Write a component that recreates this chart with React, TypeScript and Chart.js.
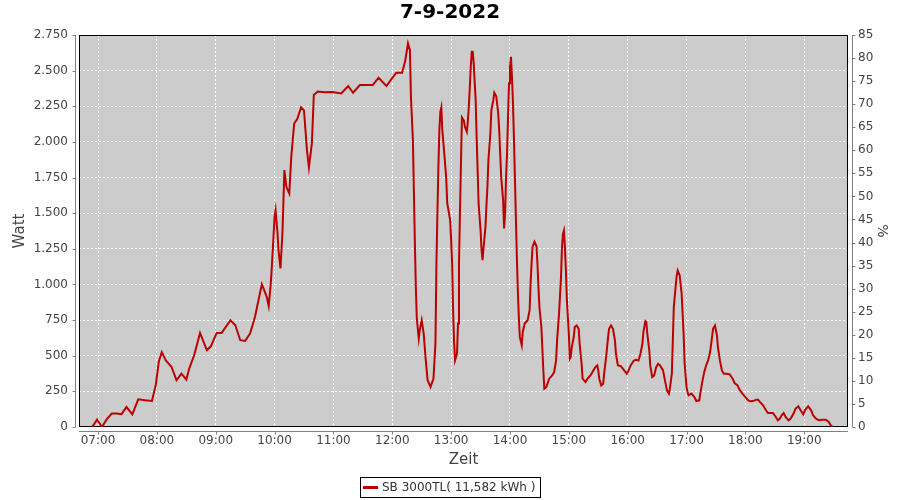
import React, { useEffect, useRef } from "react";
import { Chart, registerables } from "chart.js";

Chart.register(...registerables);

const chartTitle = "7-9-2022";
const seriesLabel = "SB 3000TL( 11,582 kWh )";
const xAxisTitle = "Zeit";
const yAxisTitle = "Watt";
const y2AxisTitle = "%";

const xTickLabels = ["07:00", "08:00", "09:00", "10:00", "11:00", "12:00", "13:00", "14:00", "15:00", "16:00", "17:00", "18:00", "19:00"];

// minutes since midnight
const timeMinutes = [
  414, 419, 424, 429, 434, 439, 444, 449, 455, 461, 468, 475, 479, 482, 485, 489, 495, 500, 505, 510,
  513, 518, 524, 531, 535, 541, 546, 555, 560, 565, 570, 575, 580, 587, 592, 594, 596, 597, 600, 601,
  603, 604, 606, 608, 610, 612, 615, 617, 620, 623, 627, 630, 633, 635, 638, 640, 644, 651, 659, 668,
  675, 680, 687, 700, 706, 714, 719, 724, 730, 733, 736, 738, 739, 741, 742, 743, 744, 745, 747, 748,
  750, 752, 754, 756, 759, 762, 764, 765, 766, 767, 768, 769, 770, 771, 773, 775, 776, 777, 779, 780,
  781, 782, 783, 784, 786, 787, 788, 789, 790, 791, 793, 794, 796, 797, 798, 799, 800, 801, 802, 803,
  805, 806, 807, 808, 810, 811, 812, 813, 815, 816, 817, 818, 820, 821, 823, 824, 826, 828, 829, 830,
  831, 833, 834, 835, 836, 837, 838, 839, 840, 841, 842, 843, 844, 845, 846, 847, 848, 849, 850, 852,
  853, 855, 858, 860, 861, 862, 863, 865, 867, 868, 869, 870, 872, 874, 875, 877, 880, 883, 885, 887,
  888, 890, 892, 893, 894, 895, 896, 897, 898, 900, 901, 902, 903, 905, 906, 908, 910, 911, 913, 914,
  917, 919, 922, 924, 927, 929, 930, 931, 933, 935, 936, 938, 940, 941, 943, 945, 947, 948, 950, 953,
  955, 957, 959, 961, 963, 966, 968, 971, 973, 975, 976, 978, 979, 980, 982, 983, 985, 987, 989, 991,
  993, 996, 998, 1000, 1002, 1003, 1005, 1006, 1007, 1009, 1010, 1011, 1013, 1015, 1016, 1017, 1018, 1020, 1021, 1022,
  1025, 1028, 1030, 1033, 1034, 1036, 1038, 1040, 1042, 1044, 1046, 1047, 1049, 1051, 1052, 1054, 1056, 1058, 1061, 1064,
  1067, 1069, 1072, 1074, 1077, 1080, 1083, 1085, 1088, 1091, 1093, 1095, 1098, 1101, 1103, 1106, 1108, 1111, 1113, 1115,
  1117, 1119, 1121, 1124, 1126, 1129, 1131, 1134, 1136, 1139, 1141, 1144, 1147, 1149, 1152, 1155, 1158, 1162, 1165, 1167,
  1169,
];

const watts = [
  0, 52, 0, 55, 94, 95, 90, 140, 89, 194, 187, 183, 300, 460, 525, 468, 421, 328, 375, 333,
  410, 503, 660, 538, 566, 660, 660, 749, 714, 609, 604, 655, 772, 1002, 913, 848, 995, 1100, 1474, 1521,
  1358, 1240, 1112, 1358, 1802, 1685, 1638, 1895, 2130, 2158, 2242, 2220, 1942, 1821, 1989, 2329, 2354, 2348, 2350, 2340,
  2392, 2345, 2399, 2399, 2450, 2392, 2439, 2485, 2485, 2562, 2691, 2644, 2317, 2013, 1662, 1299, 983, 761, 621, 679,
  749, 655, 480, 328, 281, 340, 585, 1147, 1498, 1825, 2083, 2211, 2242, 2083, 1919, 1744, 1568, 1533, 1451, 1311,
  1147, 819, 597, 468, 515, 726, 1147, 1500, 1850, 2172, 2150, 2106, 2071, 2141, 2246, 2375, 2527, 2632, 2632, 2551,
  2293, 2036, 1802, 1568, 1381, 1240, 1170, 1252, 1404, 1556, 1685, 1872, 2059, 2223, 2293, 2345, 2320, 2200, 2083, 1919,
  1755, 1591, 1393, 1498, 1755, 1919, 2176, 2411, 2527, 2597, 2457, 2281, 2036, 1755, 1474, 1193, 960, 772, 632, 574,
  667, 726, 749, 819, 1007, 1147, 1264, 1299, 1270, 1147, 983, 842, 701, 397, 269, 280, 339, 362, 385, 467,
  607, 794, 1051, 1261, 1355, 1378, 1261, 1098, 888, 654, 479, 491, 561, 631, 701, 712, 689, 584, 444, 339,
  315, 339, 362, 385, 420, 432, 397, 339, 292, 304, 374, 491, 631, 689, 712, 689, 607, 514, 432, 427,
  409, 392, 374, 397, 432, 463, 472, 467, 514, 584, 666, 743, 736, 654, 537, 432, 350, 362, 420, 444,
  432, 397, 327, 257, 234, 269, 374, 607, 841, 993, 1063, 1098, 1063, 934, 794, 654, 450, 280, 245, 222,
  234, 210, 182, 187, 234, 315, 385, 432, 467, 526, 631, 689, 712, 642, 561, 467, 397, 374, 374, 369,
  339, 308, 292, 262, 234, 210, 187, 180, 182, 192, 192, 175, 152, 117, 98, 98, 98, 70, 47, 58,
  82, 98, 70, 47, 58, 93, 128, 145, 121, 89, 121, 145, 117, 82, 58, 47, 51, 51, 35, 12,
  0,
];

const xMin = 400.6;
const xMax = 1184.6;
const yMin = 0;
const yMax = 2750;
const yStep = 250;
const y2Min = 0;
const y2Max = 85;
const y2Step = 5;

const FONT = '"DejaVu Sans", sans-serif';

function parseHM(s: string): number {
  const [h, m] = s.split(":").map(Number);
  return h * 60 + m;
}
function fmtHM(v: number): string {
  const h = Math.floor(v / 60);
  const m = Math.round(v - h * 60);
  return String(h).padStart(2, "0") + ":" + String(m).padStart(2, "0");
}
function fmtDE(v: number): string {
  if (v >= 1000) {
    return Math.floor(v / 1000) + "." + String(v % 1000).padStart(3, "0");
  }
  return String(v);
}

const framePlugin = {
  id: "framePlugin",
  beforeDraw(chart: any) {
    const { ctx, chartArea: a } = chart;
    ctx.save();
    ctx.fillStyle = "#CCCCCC";
    ctx.fillRect(a.left, a.top, a.right - a.left, a.bottom - a.top);
    ctx.restore();
  },
  beforeDatasetsDraw(chart: any) {
    const { ctx, chartArea: a, scales } = chart;
    ctx.save();
    ctx.lineWidth = 1;
    ctx.strokeStyle = "#000000";
    ctx.strokeRect(a.left + 0.5, a.top + 0.5, a.right - a.left - 1, a.bottom - a.top - 1);

    const off = 4;
    const tl = 3;
    ctx.strokeStyle = "#808080";
    const line = (x1: number, y1: number, x2: number, y2: number) => {
      ctx.beginPath();
      ctx.moveTo(x1, y1);
      ctx.lineTo(x2, y2);
      ctx.stroke();
    };
    // left axis
    const lx = Math.round(a.left - off) + 0.5;
    line(lx, a.top, lx, a.bottom);
    for (const t of scales.y.ticks) {
      const py = Math.round(scales.y.getPixelForValue(t.value)) + 0.5;
      line(lx - tl, py, lx, py);
    }
    // right axis
    const rx = Math.round(a.right + off) + 0.5;
    line(rx, a.top, rx, a.bottom);
    for (const t of scales.y1.ticks) {
      const py = Math.round(scales.y1.getPixelForValue(t.value)) + 0.5;
      line(rx, py, rx + tl, py);
    }
    // bottom axis
    const by = Math.round(a.bottom + off) + 0.5;
    line(a.left, by, a.right, by);
    for (const t of scales.x.ticks) {
      const px = Math.round(scales.x.getPixelForValue(t.value)) + 0.5;
      line(px, by, px, by + tl);
    }
    ctx.restore();
  },
  afterDraw(chart: any) {
    const { ctx } = chart;
    const ds = chart.data.datasets[0];
    ctx.save();
    ctx.font = "12px " + FONT;
    const tw = ctx.measureText(ds.label).width;
    const w = Math.round(22 + tw + 5);
    const h = 20;
    const x0 = Math.round(chart.width / 2 - w / 2);
    const y0 = 477;
    ctx.fillStyle = "#FFFFFF";
    ctx.fillRect(x0, y0, w, h);
    ctx.strokeStyle = "#000000";
    ctx.lineWidth = 1;
    ctx.strokeRect(x0 + 0.5, y0 + 0.5, w, h);
    ctx.strokeStyle = ds.borderColor;
    ctx.lineWidth = 3;
    ctx.beginPath();
    ctx.moveTo(x0 + 3, y0 + 10.5);
    ctx.lineTo(x0 + 18, y0 + 10.5);
    ctx.stroke();
    ctx.fillStyle = "#333333";
    ctx.textBaseline = "middle";
    ctx.textAlign = "left";
    ctx.fillText(ds.label, x0 + 22, y0 + 11);
    ctx.restore();
  },
};

export default function App() {
  const canvasRef = useRef<HTMLCanvasElement | null>(null);

  useEffect(() => {
    const canvas = canvasRef.current;
    if (!canvas) return;
    Chart.defaults.font.family = FONT;
    const hourValues = xTickLabels.map(parseHM);
    const chart = new Chart(canvas, {
      type: "line",
      data: {
        datasets: [
          {
            label: seriesLabel,
            data: timeMinutes.map((t, i) => ({ x: t, y: watts[i] })),
            borderColor: "#BB0000",
            backgroundColor: "#BB0000",
            borderWidth: 2,
            pointRadius: 0,
            tension: 0,
            fill: false,
            xAxisID: "x",
            yAxisID: "y",
          },
        ],
      },
      options: {
        responsive: false,
        animation: false,
        devicePixelRatio: 1,
        layout: { padding: 0 },
        plugins: {
          legend: { display: false },
          tooltip: { enabled: false },
          title: {
            display: true,
            text: chartTitle,
            color: "#000000",
            font: { family: FONT, size: 20, weight: "bold" },
            padding: { top: 1, bottom: 10 },
          },
        },
        scales: {
          x: {
            type: "linear",
            min: xMin,
            max: xMax,
            afterBuildTicks: (s: any) => {
              s.ticks = hourValues.map((v) => ({ value: v }));
            },
            afterFit: (s: any) => {
              s.height = 73;
            },
            ticks: {
              autoSkip: false,
              maxRotation: 0,
              padding: 7,
              color: "#444444",
              font: { family: FONT, size: 12 },
              callback: (v: any) => fmtHM(Number(v)),
            },
            grid: { color: "#FFFFFF", lineWidth: 1, drawTicks: false },
            border: { display: false, dash: [2, 2] },
            title: {
              display: true,
              text: xAxisTitle,
              color: "#444444",
              font: { family: FONT, size: 15 },
              padding: { top: 0, bottom: 31 },
            },
          },
          y: {
            type: "linear",
            position: "left",
            min: yMin,
            max: yMax,
            afterFit: (s: any) => {
              s.width = 79;
            },
            ticks: {
              stepSize: yStep,
              padding: 11,
              color: "#444444",
              font: { family: FONT, size: 12 },
              callback: (v: any) => fmtDE(Number(v)),
            },
            grid: { color: "#FFFFFF", lineWidth: 1, drawTicks: false },
            border: { display: false, dash: [2, 2] },
            title: {
              display: true,
              text: yAxisTitle,
              color: "#444444",
              font: { family: FONT, size: 15 },
              padding: { top: 11, bottom: 0 },
            },
          },
          y1: {
            type: "linear",
            position: "right",
            display: true,
            min: y2Min,
            max: y2Max,
            afterFit: (s: any) => {
              s.width = 52;
            },
            ticks: {
              stepSize: y2Step,
              padding: 10,
              color: "#444444",
              font: { family: FONT, size: 12 },
            },
            grid: { display: false, drawTicks: false },
            border: { display: false },
            title: {
              display: true,
              text: y2AxisTitle,
              color: "#444444",
              font: { family: FONT, size: 14 },
              padding: { top: 10, bottom: 0 },
            },
          },
        },
      } as any,
      plugins: [framePlugin],
    });
    return () => {
      chart.destroy();
    };
  }, []);

  return (
    <div style={{ position: "absolute", left: 0, top: 0, width: 900, height: 500, background: "#FFFFFF" }}>
      <canvas ref={canvasRef} width={900} height={500} style={{ display: "block" }} />
    </div>
  );
}
